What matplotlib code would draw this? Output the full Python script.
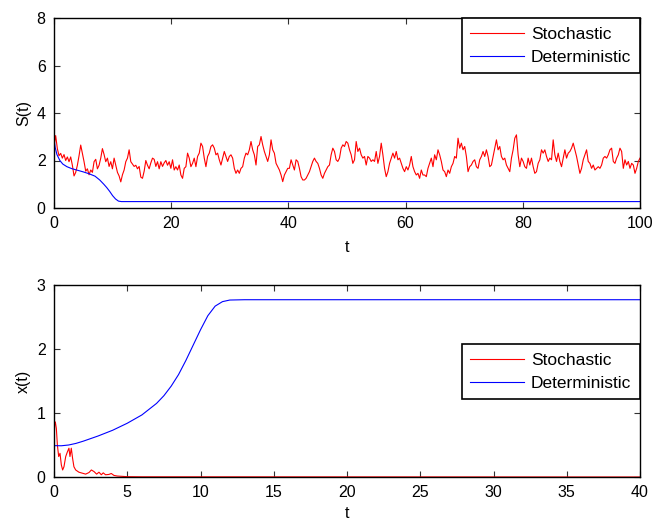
import numpy as np
import matplotlib
matplotlib.use("Agg")
import matplotlib.pyplot as plt

plt.rcParams['font.family'] = ['Liberation Sans', 'DejaVu Sans']

# ---- Top panel: S(t) ----
S_stoch = [
    # t 0 .. ~19.6
    2.6, 3.05, 2.5, 2.2, 2.3, 2.1, 2.25, 2.0, 2.15, 1.95, 2.15, 1.8, 1.35, 1.5, 1.8, 2.2, 2.65, 2.3,
    1.95, 1.55, 1.65, 1.4, 1.6, 1.5, 1.95, 2.05, 1.65, 1.8, 2.1, 2.5, 2.25, 1.95, 2.1, 1.75, 1.95,
    1.65, 2.1, 1.8, 1.5, 1.35, 1.1, 1.4, 1.6, 1.95, 2.1, 2.45, 1.95, 1.85, 1.75, 1.8, 1.65, 1.75,
    1.3, 1.25, 1.55, 2.0, 1.8, 1.65, 1.9, 2.1, 2.05, 1.75, 1.95, 1.65, 1.95, 1.75, 1.9, 2.0, 1.8, 1.95,
    # ~19.8 .. ~39.7
    1.67, 2.03, 1.60, 1.74, 1.60, 1.81, 1.39, 1.25, 1.67, 1.74, 2.31, 2.10, 1.74, 1.88, 2.10, 1.74,
    2.17, 2.31, 2.73, 2.59, 2.10, 1.74, 2.17, 2.31, 2.59, 2.66, 2.52, 2.24, 2.31, 2.03, 1.81, 2.10,
    2.38, 2.17, 1.96, 2.17, 2.24, 2.10, 1.67, 1.46, 1.60, 1.46, 1.67, 1.74, 2.10, 2.31, 2.24, 2.45,
    2.80, 2.45, 2.24, 1.81, 2.59, 2.66, 3.01, 2.66, 2.38, 2.17, 1.96, 2.24, 2.87, 2.45, 2.31, 1.88,
    1.74, 1.60, 1.39, 1.11, 1.39, 1.53, 1.67,
    # ~40 .. ~60
    1.67, 2.03, 1.81, 1.60, 2.03, 1.96, 1.67, 1.32, 1.18, 1.18, 1.25, 1.39, 1.53, 1.74, 1.96, 2.10,
    1.96, 1.88, 1.67, 1.39, 1.25, 1.46, 1.60, 1.74, 1.81, 2.24, 2.52, 2.38, 2.03, 1.96, 2.10, 2.52,
    2.66, 2.59, 2.80, 2.73, 2.45, 2.24, 1.88, 2.03, 2.80, 2.38, 2.52, 2.24, 2.10, 2.17, 1.81, 2.17,
    2.10, 1.96, 2.03, 1.96, 2.38, 1.88, 2.17, 2.73, 2.24, 1.67, 1.32, 1.53, 1.88, 2.10, 2.31, 2.10,
    2.38, 2.03, 2.10, 1.88, 1.67, 1.53, 1.74,
    # ~60 .. ~80
    1.60, 1.81, 2.17, 1.74, 1.53, 1.39, 1.46, 1.25, 1.60, 1.39, 1.39, 1.32, 1.67, 1.88, 2.10, 1.74,
    2.24, 2.03, 2.45, 2.24, 1.96, 1.60, 1.53, 1.32, 1.60, 1.46, 1.74, 1.88, 2.17, 2.10, 2.94, 2.52,
    2.73, 2.45, 2.59, 2.17, 1.53, 1.74, 1.81, 1.96, 2.03, 1.74, 1.67, 2.03, 2.17, 2.38, 2.17, 2.45,
    2.17, 1.74, 1.81, 2.17, 2.52, 2.87, 2.45, 2.59, 2.17, 2.03, 2.10, 1.81, 1.67, 1.53, 2.10, 2.45,
    2.94, 3.08, 2.24, 1.74, 2.10, 1.96, 1.74,
    # ~80 .. 100
    1.67, 2.10, 1.81, 2.10, 1.74, 1.46, 1.53, 1.88, 2.03, 2.45, 2.31, 2.45, 2.17, 1.96, 2.10, 2.03,
    2.87, 2.24, 1.96, 2.31, 1.96, 1.74, 2.10, 2.45, 2.10, 2.31, 2.38, 2.52, 2.73, 2.45, 2.17, 1.81,
    1.46, 1.67, 2.03, 2.24, 2.45, 1.96, 1.88, 1.67, 1.81, 1.60, 1.67, 1.74, 1.67, 1.81, 2.10, 2.17,
    2.10, 2.24, 2.45, 2.52, 1.96, 1.88, 2.10, 2.24, 2.52, 2.38, 1.67, 2.03, 1.81, 1.96, 1.67, 1.88,
    1.81, 1.46, 1.67, 1.96, 2.10,
]
t_S_stoch = np.linspace(0, 100, len(S_stoch))

t_S_det = [0, 0.2, 0.5, 1.0, 1.5, 2.2, 3.0, 4.0, 5.0, 6.0, 7.0, 7.8, 8.5, 9.0, 9.5, 10.0,
           10.5, 11.0, 11.5, 12.0, 100]
S_det = [2.95, 2.55, 2.25, 2.0, 1.85, 1.74, 1.66, 1.59, 1.52, 1.44, 1.34, 1.18, 1.0, 0.86,
         0.7, 0.52, 0.38, 0.29, 0.27, 0.27, 0.27]

# ---- Bottom panel: x(t) ----
t_x_stoch = [0, 0.05, 0.09, 0.16, 0.23, 0.32, 0.41, 0.5, 0.59, 0.68, 0.8, 0.91, 1.02, 1.09,
             1.18, 1.27, 1.36, 1.48, 1.7, 1.93, 2.16, 2.39, 2.55, 2.73, 2.91, 3.07, 3.23,
             3.36, 3.52, 3.75, 3.91, 4.09, 4.32, 4.66, 5.0, 6.0, 40]
x_stoch = [0.5, 0.86, 0.86, 0.76, 0.5, 0.32, 0.37, 0.19, 0.11, 0.16, 0.32, 0.39, 0.45, 0.32,
           0.45, 0.29, 0.16, 0.11, 0.075, 0.06, 0.045, 0.07, 0.11, 0.085, 0.045, 0.075, 0.035,
           0.065, 0.035, 0.04, 0.055, 0.025, 0.015, 0.01, 0.005, 0.003, 0.0]

t_x_det = [0, 0.5, 1.0, 1.5, 2.0, 3.0, 4.0, 5.0, 6.0, 7.0, 7.5, 8.0, 8.5, 9.0, 9.5, 10.0, 10.5,
           11.0, 11.5, 12.0, 13.0, 40]
x_det = [0.49, 0.488, 0.5, 0.525, 0.56, 0.64, 0.73, 0.84, 0.97, 1.15, 1.27, 1.42, 1.6, 1.82,
         2.06, 2.3, 2.52, 2.67, 2.74, 2.765, 2.77, 2.77]

fig = plt.figure(figsize=(6.55, 5.21), dpi=100)
W, H = 655, 521
ax1 = fig.add_axes([54 / W, 1 - 208 / H, 586 / W, 190 / H])
ax2 = fig.add_axes([54 / W, 1 - 477 / H, 586 / W, 192 / H])

FS = 11.5
LFS = 12.5
lw = 0.8

def style(ax):
    ax.tick_params(direction='in', length=4, width=0.8, top=True, right=True,
                   labelsize=FS, pad=6, color='#333333')
    for s in ax.spines.values():
        s.set_linewidth(1.0)
        s.set_color('black')

def legend(ax, anchor_y):
    leg = ax.legend(loc='upper right', bbox_to_anchor=(1.0, anchor_y), borderaxespad=0,
                    fontsize=LFS, fancybox=False, framealpha=1, edgecolor='black',
                    handlelength=3.1, handletextpad=0.4, borderpad=0.5, labelspacing=0.45)
    leg.get_frame().set_linewidth(1.2)
    return leg

ax1.plot(t_S_stoch, S_stoch, color='red', lw=lw, label='Stochastic')
ax1.plot(t_S_det, S_det, color='blue', lw=lw, label='Deterministic')
ax1.set_xlim(0, 100)
ax1.set_ylim(0, 8)
ax1.set_xticks(range(0, 101, 20))
ax1.set_yticks(range(0, 9, 2))
ax1.set_xlabel('t', fontsize=FS, labelpad=6)
ax1.set_ylabel('S(t)', fontsize=FS, labelpad=4)
style(ax1)
legend(ax1, 1.0)

ax2.plot(t_x_stoch, x_stoch, color='red', lw=lw, label='Stochastic')
ax2.plot(t_x_det, x_det, color='blue', lw=lw, label='Deterministic')
ax2.set_xlim(0, 40)
ax2.set_ylim(0, 3)
ax2.set_xticks(range(0, 41, 5))
ax2.set_yticks(range(0, 4, 1))
ax2.set_xlabel('t', fontsize=FS, labelpad=4)
ax2.set_ylabel('x(t)', fontsize=FS, labelpad=4)
style(ax2)
legend(ax2, 0.693)

fig.savefig('out.png', dpi=100)
